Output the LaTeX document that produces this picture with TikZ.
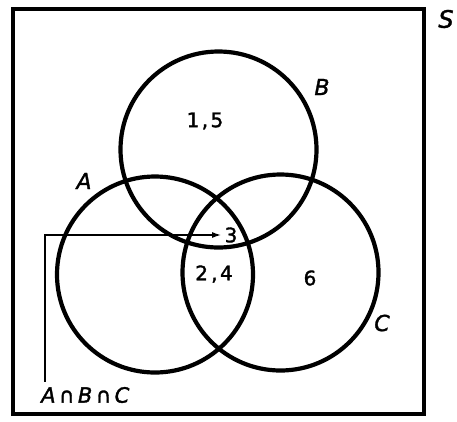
\documentclass[tikz,border=0pt]{standalone}
\usepackage{fontspec}
\setmainfont{DejaVu Sans}[FakeBold=1.6, LetterSpace=12]
\usepackage{tikz}
\usetikzlibrary{arrows.meta, positioning, calc}

\tikzset{
  setcircle/.style={draw, line width=4.2pt, circle, minimum size=196pt, inner sep=0pt},
  setlabel/.style={font=\fontsize{22}{22}\selectfont\itshape},
  elemlabel/.style={font=\fontsize{20}{20}\selectfont},
  pointer/.style={line width=1.4pt, -{Latex[length=9pt, width=6pt]}}
}
\newcommand{\capgap}{\kern3.5pt}

\begin{document}
\begin{tikzpicture}[x=1pt, y=-1pt]
  \useasboundingbox (0,0) rectangle (457,421);

  %% Sample space
  \draw[line width=4pt] (13,9) rectangle (424,414);
  \node[setlabel, font=\fontsize{24}{24}\selectfont\itshape] (S) at (446,19) {S};

  %% Sets
  \node[setcircle] (B) at (218.5,149.5) {};
  \node[setcircle] (A) at (155,274.5) {};
  \node[setcircle] (C) at (280.5,272.5) {};
  \node[setlabel] (labB) at (322,87) {B};
  \node[setlabel] (labA) at (84,181) {A};
  \node[setlabel] (labC) at (382,323) {C};

  %% Elements
  \node[elemlabel] (e15) at (205,121) {1,5};
  \node[elemlabel] (three) at (231,235) {3};
  \node[elemlabel] (e24) at (214,274) {2\,,4};
  \node[elemlabel] (e6) at (310,278) {6};

  %% Intersection label and pointer
  \node[font=\fontsize{21}{21}\selectfont, anchor=west, inner sep=0pt] (abc) at (41,395)
    {{\itshape A}\capgap∩\capgap{\itshape B}\capgap∩\capgap{\itshape C}};
  \draw[pointer] ([xshift=4pt, yshift=5pt]abc.north west) |- (three.west);

\end{tikzpicture}
\end{document}
